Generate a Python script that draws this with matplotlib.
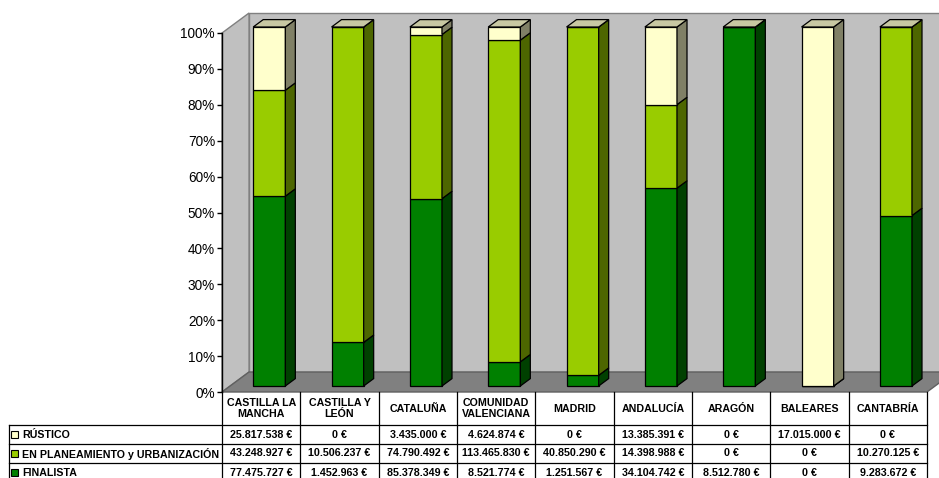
import matplotlib.pyplot as plt
from matplotlib.patches import Polygon, Rectangle

plt.rcParams["font.family"] = ["Liberation Sans", "DejaVu Sans"]

REGIONS = ["CASTILLA LA\nMANCHA", "CASTILLA Y\nLEÓN", "CATALUÑA", "COMUNIDAD\nVALENCIANA",
           "MADRID", "ANDALUCÍA", "ARAGÓN", "BALEARES", "CANTABRÍA"]
RUSTICO = [25817538, 0, 3435000, 4624874, 0, 13385391, 0, 17015000, 0]
PLANEAMIENTO = [43248927, 10506237, 74790492, 113465830, 40850290, 14398988, 0, 0, 10270125]
FINALISTA = [77475727, 1452963, 85378349, 8521774, 1251567, 34104742, 8512780, 0, 9283672]
SERIES_NAMES = ["RÚSTICO", "EN PLANEAMIENTO y URBANIZACIÓN", "FINALISTA"]

# front, side colours per series (excel style 3d)
FACE = {"FINALISTA": "#008000", "EN PLANEAMIENTO y URBANIZACIÓN": "#99CC00", "RÚSTICO": "#FFFFCC"}
SIDE = {"FINALISTA": "#004000", "EN PLANEAMIENTO y URBANIZACIÓN": "#4D6600", "RÚSTICO": "#808066"}
TOP = "#C8C8A3"

W, H = 939, 478
DX, DY = 0.345, 5.57          # wall depth in data units
D0, D1 = 0.30, 0.67           # bar depth span (fraction of wall depth)
BAR_W = 0.41
LABEL_W = 2.72                # table label column, in category units
HEADER_H, ROW_H = 33, 19


def fx(px):
    return px / W


def fy(py):
    return 1 - py / H


def euro(v):
    return f"{v:,}".replace(",", ".") + " €"


def draw_bar(ax, i, stack):
    left = i + 0.5 - BAR_W / 2 + D0 * DX
    base = D0 * DY
    ddx, ddy = (D1 - D0) * DX, (D1 - D0) * DY
    right = left + BAR_W
    bottom = 0.0
    for name, pct in stack:
        top = bottom + pct
        b, t = base + bottom, base + top
        ax.add_patch(Polygon([(left, b), (right, b), (right, t), (left, t)], closed=True,
                             fc=FACE[name], ec="black", lw=0.9, clip_on=False, zorder=3))
        ax.add_patch(Polygon([(right, b), (right + ddx, b + ddy), (right + ddx, t + ddy), (right, t)],
                             closed=True, fc=SIDE[name], ec="black", lw=0.9, clip_on=False, zorder=3))
        bottom = top
    t = base + bottom
    ax.add_patch(Polygon([(left, t), (right, t), (right + ddx, t + ddy), (left + ddx, t + ddy)],
                         closed=True, fc=TOP, ec="black", lw=0.9, clip_on=False, zorder=3))


fig = plt.figure(figsize=(W / 100, H / 100), dpi=100)
ax = fig.add_axes([fx(222), fy(392), fx(927) - fx(222), fy(33) - fy(392)])
n = len(REGIONS)
ax.set_xlim(0, n)
ax.set_ylim(0, 100)

# walls and floor
ax.add_patch(Polygon([(DX, DY), (n + 1, DY), (n + 1, 100 + DY), (DX, 100 + DY)], closed=True,
                     fc="#C0C0C0", ec="#808080", lw=1, clip_on=False, zorder=0))
ax.add_patch(Polygon([(0, 0), (DX, DY), (DX, 100 + DY), (0, 100)], closed=True,
                     fc="#C0C0C0", ec="#808080", lw=1, clip_on=False, zorder=0))
ax.add_patch(Polygon([(0, 0), (n, 0), (n + DX, DY), (DX, DY)], closed=True,
                     fc="#808080", ec="#606060", lw=1, clip_on=False, zorder=1))

for i in range(n):
    total = FINALISTA[i] + PLANEAMIENTO[i] + RUSTICO[i]
    stack = [("FINALISTA", FINALISTA[i] / total * 100),
             ("EN PLANEAMIENTO y URBANIZACIÓN", PLANEAMIENTO[i] / total * 100),
             ("RÚSTICO", RUSTICO[i] / total * 100)]
    draw_bar(ax, i, stack)

for s in ["top", "right", "bottom"]:
    ax.spines[s].set_visible(False)
ax.spines["left"].set_color("black")
ax.spines["left"].set_linewidth(1)
ax.set_xticks([])
ax.set_yticks(range(0, 101, 10))
ax.set_yticklabels([f"{t}%" for t in range(0, 101, 10)])
ax.tick_params(axis="y", length=3.5, width=1, pad=1.5, labelsize=9.8, colors="black")
ax.patch.set_visible(False)

# data table
tab = fig.add_axes([fx(9), 0, fx(927) - fx(9), 1 - 392 / H])
tab.set_xlim(-LABEL_W, n)
tab.set_ylim(H - 392, 0)
tab.axis("off")
line_kw = dict(color="black", lw=0.9, clip_on=False)
for k in range(n + 1):
    tab.plot([k, k], [0, H], **line_kw)
tab.plot([-LABEL_W, -LABEL_W], [HEADER_H, H], **line_kw)
for r in range(3):
    tab.plot([-LABEL_W, n], [HEADER_H + r * ROW_H] * 2, **line_kw)

txt_kw = dict(fontsize=7.7, fontweight="bold", ha="center", va="center")
for i, name in enumerate(REGIONS):
    tab.text(i + 0.5, HEADER_H / 2, name, linespacing=1.15, **txt_kw)

rows = [RUSTICO, PLANEAMIENTO, FINALISTA]
for r, (name, vals) in enumerate(zip(SERIES_NAMES, rows)):
    yc = HEADER_H + ROW_H * (r + 0.5)
    tab.add_patch(Rectangle((-LABEL_W + 0.03, yc - 3.5), 0.09, 7, fc=FACE[name],
                            ec="black", lw=0.8, clip_on=False))
    tab.text(-LABEL_W + 0.165, yc, name, fontsize=7.7, fontweight="bold", ha="left", va="center")
    for i, v in enumerate(vals):
        tab.text(i + 0.5, yc, euro(v), **txt_kw)

fig.savefig("out.png", dpi=100)
